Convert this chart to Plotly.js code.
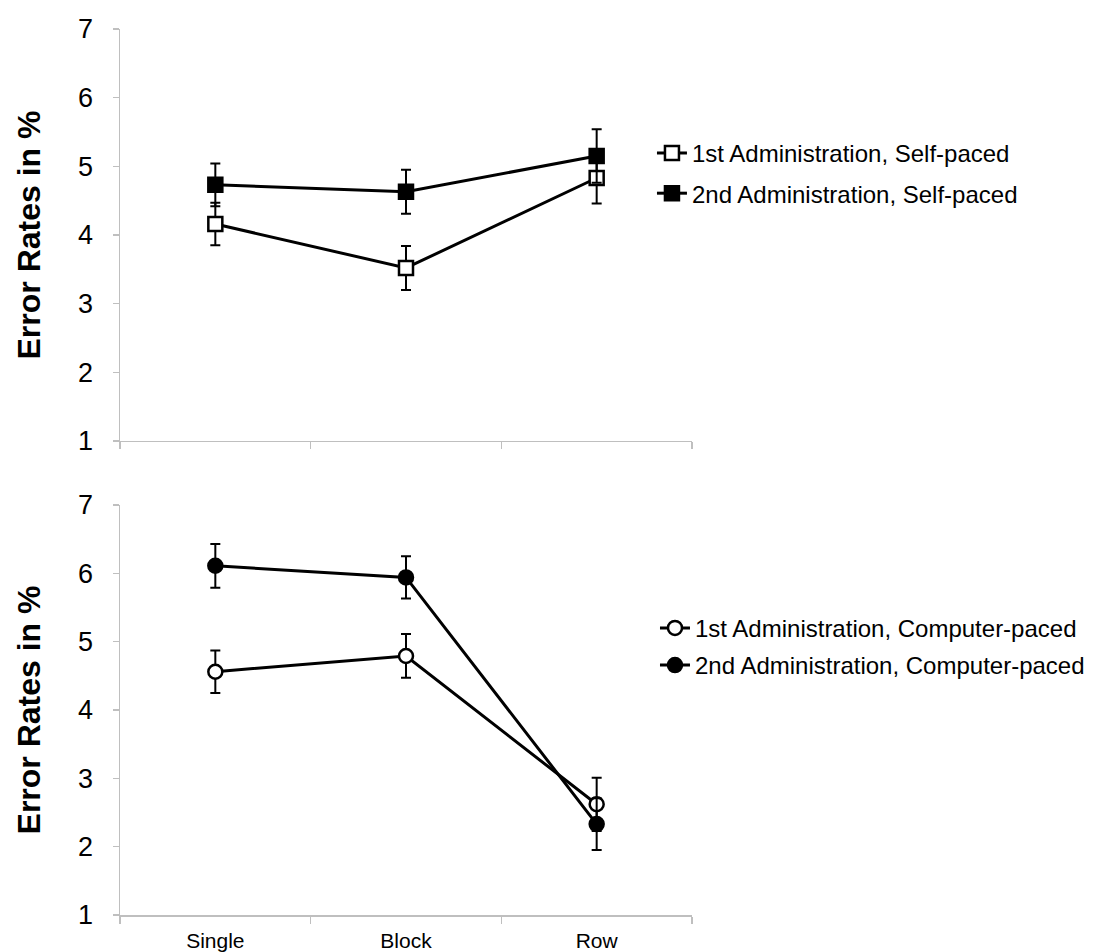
<!DOCTYPE html>
<html>
<head>
<meta charset="utf-8">
<script src="https://cdn.plot.ly/plotly-3.0.1.min.js"></script>
<style>
html,body{margin:0;padding:0;background:#fff;overflow:hidden;}
#chart{width:1112px;height:952px;}
</style>
</head>
<body>
<div id="chart"></div>
<script>
// ---- data ----
const categories = ["Single", "Block", "Row"];

const selfFirstName = "1st Administration, Self-paced";
const selfFirst = [4.16, 3.52, 4.83];
const selfFirstErr = [0.31, 0.32, 0.37];

const selfSecondName = "2nd Administration, Self-paced";
const selfSecond = [4.73, 4.63, 5.15];
const selfSecondErr = [0.31, 0.32, 0.39];

const compFirstName = "1st Administration, Computer-paced";
const compFirst = [4.56, 4.79, 2.62];
const compFirstErr = [0.31, 0.32, 0.39];

const compSecondName = "2nd Administration, Computer-paced";
const compSecond = [6.11, 5.94, 2.33];
const compSecondErr = [0.32, 0.31, 0.38];

const yTickVals = [1, 2, 3, 4, 5, 6, 7];
const yTitle = "Error Rates in %";

// ---- styling helpers ----
function trace(name, y, err, symbol, fill, xa, ya, legend, group) {
  return {
    type: "scatter",
    mode: "lines+markers",
    name: name,
    x: categories,
    y: y,
    xaxis: xa,
    yaxis: ya,
    legend: legend,
    legendgroup: group,
    line: {color: "#000", width: 3},
    marker: {symbol: symbol, size: 14, color: fill, line: {color: "#000", width: 2.5}},
    error_y: {type: "data", array: err, visible: true, color: "#000", thickness: 2, width: 5}
  };
}

const data = [
  trace(selfFirstName, selfFirst, selfFirstErr, "square", "#fff", "x", "y", "legend", "a"),
  trace(selfSecondName, selfSecond, selfSecondErr, "square", "#000", "x", "y", "legend", "b"),
  trace(compFirstName, compFirst, compFirstErr, "circle", "#fff", "x2", "y2", "legend2", "c"),
  trace(compSecondName, compSecond, compSecondErr, "circle", "#000", "x2", "y2", "legend2", "d")
];

const fontFam = "Liberation Sans, Arial, sans-serif";
const axisGray = "#bfbfbf";

function xaxis(showLabels, anchor) {
  return {
    type: "category",
    anchor: anchor,
    domain: [0, 1],
    range: [-0.5, 2.5],
    showgrid: false,
    zeroline: false,
    showline: true,
    linecolor: axisGray,
    linewidth: 1.5,
    ticks: "outside",
    tickson: "boundaries",
    ticklen: 7,
    tickcolor: axisGray,
    tickwidth: 1.5,
    ticklabelstandoff: 6,
    showticklabels: showLabels,
    tickfont: {family: fontFam, size: 21, color: "#000"},
    fixedrange: true
  };
}
function yaxis(domain, anchor) {
  return {
    anchor: anchor,
    domain: domain,
    range: [1, 7],
    tickvals: yTickVals,
    showgrid: false,
    zeroline: false,
    showline: true,
    linecolor: axisGray,
    linewidth: 1.5,
    ticks: "outside",
    ticklen: 6,
    tickcolor: axisGray,
    tickwidth: 1.5,
    ticklabelstandoff: 14,
    tickfont: {family: fontFam, size: 27, color: "#000"},
    title: {text: yTitle, standoff: 28, font: {family: fontFam, size: 32, color: "#000", weight: "bold"}},
    fixedrange: true
  };
}

const legendBase = {
  font: {family: fontFam, size: 24, color: "#000"},
  bgcolor: "rgba(0,0,0,0)",
  borderwidth: 0,
  xanchor: "left",
  yanchor: "top",
  itemwidth: 30,
  tracegroupgap: 6
};

const layout = {
  width: 1112,
  height: 952,
  paper_bgcolor: "#fff",
  plot_bgcolor: "#fff",
  margin: {l: 120, r: 420, t: 29, b: 37},
  showlegend: true,
  font: {family: fontFam, color: "#000"},
  xaxis: xaxis(false, "y"),
  yaxis: yaxis([0.535, 1], "x"),
  xaxis2: xaxis(true, "y2"),
  yaxis2: yaxis([0, 0.4628], "x2"),
  legend: Object.assign({}, legendBase, {x: 0.930, y: 0.885}),
  legend2: Object.assign({}, legendBase, {x: 0.9353, y: 0.349, tracegroupgap: 3})
};

Plotly.newPlot("chart", data, layout, {displayModeBar: false, staticPlot: true});
</script>
</body>
</html>
